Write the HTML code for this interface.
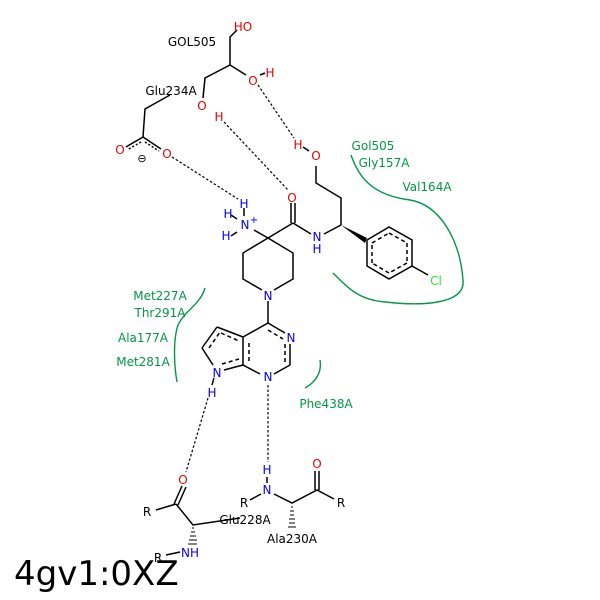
<!DOCTYPE html>
<html><head><style>html,body{margin:0;padding:0;background:#fff}svg{display:block}</style></head><body>
<svg width="600" height="600" viewBox="0 0 600 600" xmlns="http://www.w3.org/2000/svg" font-family="DejaVu Sans, Liberation Sans, sans-serif" font-size="12">
<rect width="600" height="600" fill="#fff"/>
<g stroke="#000" stroke-width="1.5" fill="none">
<polyline points="237,30 230,37 230,65 246,75"/>
<polyline points="230,65 205,78 203,98"/>
<line x1="260" y1="75" x2="265" y2="73"/>
<polyline points="170,95 145,109 143,137"/>
<line x1="143" y1="137" x2="126" y2="147"/>
<line x1="143" y1="137" x2="161" y2="149"/>
<line x1="141" y1="142" x2="127" y2="150" stroke-dasharray="2,2"/>
<line x1="145" y1="142" x2="159" y2="151" stroke-dasharray="2,2"/>
<line x1="303" y1="147" x2="309" y2="151"/>
<polyline points="316,166 316,183 341,198 341,225"/>
<line x1="341" y1="225" x2="324" y2="234"/>
<line x1="311" y1="234" x2="293" y2="223"/>
<line x1="293" y1="223" x2="268" y2="238"/>
<line x1="291" y1="223" x2="291" y2="203"/>
<line x1="295" y1="223" x2="295" y2="203"/>
<line x1="254" y1="230" x2="268" y2="238"/>
<line x1="244" y1="208" x2="244" y2="216"/>
<line x1="231" y1="215" x2="237" y2="219"/>
<line x1="231" y1="236" x2="237" y2="232"/>
<polyline points="268,238 293,253 293,279 274,290"/>
<polyline points="262,290 243,279 243,253 268,238"/>
<line x1="268" y1="301" x2="268" y2="323"/>
<polyline points="268,323 285,333"/>
<line x1="290" y1="344" x2="290" y2="365"/>
<line x1="290" y1="365" x2="274" y2="374"/>
<line x1="260" y1="374" x2="243" y2="365"/>
<line x1="243" y1="365" x2="243" y2="337"/>
<line x1="243" y1="337" x2="268" y2="323"/>
<line x1="243" y1="337" x2="217" y2="327"/>
<line x1="217" y1="327" x2="202" y2="348"/>
<line x1="202" y1="348" x2="213" y2="365"/>
<line x1="224" y1="370" x2="243" y2="365"/>
<g stroke-dasharray="4,3">
<line x1="268" y1="330" x2="283" y2="339"/>
<line x1="285" y1="344" x2="285" y2="362"/>
<line x1="249" y1="361" x2="249" y2="341"/>
<line x1="221" y1="333" x2="239" y2="341"/>
<line x1="209" y1="348" x2="220" y2="332"/>
<line x1="222" y1="364" x2="239" y2="359"/>
</g>
<line x1="214" y1="378" x2="212" y2="385"/>
<polyline points="367,240 389,227 412,240 412,266 389,279 367,266 367,240"/>
<g stroke-dasharray="4,3">
<line x1="372" y1="243" x2="389" y2="233"/>
<line x1="389" y1="233" x2="407" y2="243"/>
<line x1="407" y1="243" x2="407" y2="263"/>
<line x1="407" y1="263" x2="389" y2="273"/>
<line x1="389" y1="273" x2="372" y2="263"/>
<line x1="372" y1="263" x2="372" y2="243"/>
</g>
<line x1="412" y1="266" x2="428" y2="275"/>
<line x1="182" y1="486" x2="174" y2="504"/>
<line x1="186" y1="487" x2="178" y2="505"/>
<line x1="176" y1="504" x2="156" y2="510"/>
<polyline points="176,504 193,525 240,518"/>
<line x1="166" y1="555" x2="180" y2="552"/>
<line x1="267" y1="477" x2="267" y2="483"/>
<line x1="261" y1="494" x2="250" y2="500"/>
<polyline points="274,494 292,503 317,490 334,499"/>
<line x1="315" y1="490" x2="315" y2="471"/>
<line x1="319" y1="490" x2="319" y2="471"/>
</g>
<polygon points="341,225 367,238 365,243" fill="#000"/>
<g stroke="#000" stroke-width="1">
<line x1="192" y1="528" x2="194" y2="528"/><line x1="191" y1="532" x2="195" y2="532"/><line x1="190" y1="536" x2="196" y2="536"/><line x1="189" y1="540" x2="197" y2="540"/><line x1="188" y1="544" x2="197" y2="544"/>
<line x1="291" y1="507" x2="293" y2="507"/><line x1="290" y1="511" x2="294" y2="511"/><line x1="290" y1="515" x2="294" y2="515"/><line x1="289" y1="519" x2="295" y2="519"/><line x1="289" y1="523" x2="295" y2="523"/><line x1="288" y1="527" x2="296" y2="527"/>
</g>
<g stroke="#000" stroke-width="1.2" stroke-dasharray="2.5,2" fill="none">
<line x1="172" y1="157" x2="238" y2="199"/>
<line x1="224" y1="122" x2="288" y2="190"/>
<line x1="258" y1="85" x2="294" y2="138"/>
<line x1="208" y1="398" x2="186" y2="472"/>
<line x1="268" y1="385" x2="268" y2="462"/>
</g>
<g stroke="#009944" stroke-width="1.4" fill="none">
<path d="M205,288 C200,305 185,310 178,325 C173,340 174,365 177,382"/>
<path d="M320,360 C322,372 316,382 305,388"/>
<path d="M351,155 C358,175 370,195 410,200 C440,205 460,240 463,280 C466,305 420,306 385,302 C360,300 350,290 333,273"/>
</g>
<g text-anchor="middle">
<text x="243" y="31" fill="#e00">HO</text>
<text x="192" y="46">GOL505</text>
<text x="253" y="85" fill="#e00">O</text>
<text x="270" y="77" fill="#e00">H</text>
<text x="171" y="95">Glu234A</text>
<text x="202" y="110" fill="#e00">O</text>
<text x="219" y="121" fill="#e00">H</text>
<text x="120" y="154" fill="#e00">O</text>
<text x="167" y="158" fill="#e00">O</text>
<text x="142" y="162" font-size="11">⊖</text>
<text x="298" y="149" fill="#e00">H</text>
<text x="316" y="160" fill="#e00">O</text>
<text x="292" y="202" fill="#e00">O</text>
<text x="244" y="208" fill="#00f">H</text>
<text x="228" y="218" fill="#00f">H</text>
<text x="245" y="229" fill="#00f">N</text>
<text x="254" y="223" fill="#00f" font-size="10">+</text>
<text x="226" y="240" fill="#00f">H</text>
<text x="317" y="241" fill="#00f">N</text>
<text x="317" y="253" fill="#00f">H</text>
<text x="268" y="300" fill="#00f">N</text>
<text x="291" y="342" fill="#00f">N</text>
<text x="268" y="381" fill="#00f">N</text>
<text x="217" y="377" fill="#00f">N</text>
<text x="212" y="397" fill="#00f">H</text>
<text x="436" y="285" fill="#3d3">Cl</text>
<text x="183" y="484" fill="#e00">O</text>
<text x="147" y="516">R</text>
<text x="245" y="524">Glu228A</text>
<text x="190" y="557" fill="#00f">NH</text>
<text x="158" y="562">R</text>
<text x="267" y="474" fill="#00f">H</text>
<text x="267" y="494" fill="#00f">N</text>
<text x="244" y="507">R</text>
<text x="317" y="468" fill="#e00">O</text>
<text x="341" y="507">R</text>
<text x="292" y="543">Ala230A</text>
<g fill="#009944">
<text x="373" y="150">Gol505</text>
<text x="384" y="167">Gly157A</text>
<text x="427" y="191">Val164A</text>
<text x="160" y="300">Met227A</text>
<text x="160" y="317">Thr291A</text>
<text x="143" y="342">Ala177A</text>
<text x="143" y="366">Met281A</text>
<text x="326" y="408">Phe438A</text>
</g>
</g>
<text x="14" y="585" font-size="34">4gv1:0XZ</text>
</svg>
</body></html>
